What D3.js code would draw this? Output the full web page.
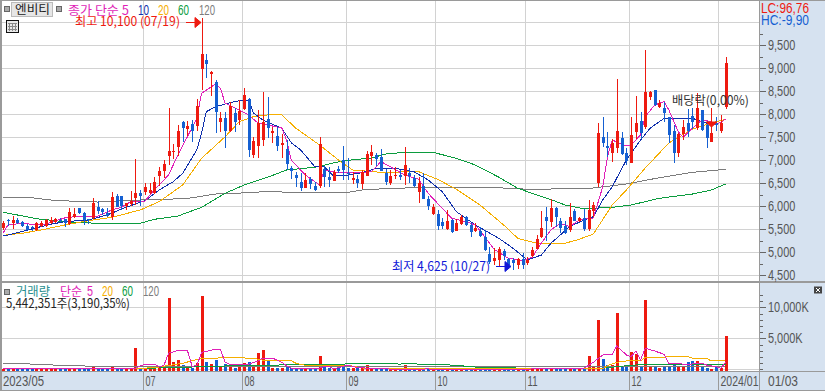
<!DOCTYPE html>
<html>
<head>
<meta charset="utf-8">
<style>
  html, body { margin: 0; padding: 0; background: #fff; }
  svg { display: block; }
  text { font-family: "Liberation Sans", sans-serif; font-size: 14px; }
  .kr { font-family: "Noto Sans CJK KR", sans-serif; font-size: 12.5px; }
</style>
<script src="https://cdn.jsdelivr.net/npm/d3@7"></script>
</head>
<body>
<svg id="chart" width="825" height="391"></svg>
<script>
// daily candles, one entry per trading day
const opens = [5514,5702,5630,5702,5659,5579,5557,5485,5565,5572,
  5644,5666,5702,5717,5615,5775,5963,5847,5717,5739,
  5992,5941,5847,5760,6224,6224,6007,6050,6173,6297,
  6297,6282,6282,6666,6775,7100,7187,7283,7833,7687,
  7783,7746,8985,9181,8861,8709,7826,7913,7637,8035,
  7876,8109,8326,7115,7296,7441,7891,7600,7528,7333,
  7239,6826,6680,6528,6398,6594,6441,6441,6804,6644,
  6557,6804,7007,6717,6572,6594,6500,6659,7094,7115,
  7078,6730,6500,6659,6680,6644,6730,6609,6296,6441,
  6159,5833,5833,5665,5507,5702,5470,5615,5774,5594,
  5448,5470,5339,4963,4796,4833,5035,4854,4833,4724,
  4854,4774,4920,5072,5317,5774,5665,5970,5687,5572,
  5485,5898,5680,5739,5500,5904,6500,7500,7317,7152,
  7261,7478,7165,6948,7622,7854,7731,8383,8524,8144,
  8144,7935,7637,7165,7572,7804,7963,7709,8089,7768,
  7404,7804,7637,8144];
const closes = [5630,5673,5702,5644,5572,5500,5543,5630,5637,5702,
  5702,5724,5688,5630,5876,5833,5847,5688,5702,6072,
  5905,5869,5789,6195,5992,6007,6065,6123,6289,6224,
  6413,6355,6521,6768,6920,7202,7209,7630,7696,7746,
  7622,8181,9311,9094,8913,8057,7920,7637,8181,7839,
  8072,8420,7209,7420,7804,7839,7696,7644,7311,7370,
  6920,6752,6609,6391,6572,6478,6354,7354,6622,6572,
  6746,6767,6789,6687,6622,6500,6752,7137,7187,7028,
  6774,6528,6659,6680,6630,6891,6659,6426,6500,6159,
  6007,5991,5572,5572,5687,5448,5644,5774,5594,5435,
  5522,5361,5050,4796,4870,5072,4926,4724,4767,4865,
  4724,4833,5050,5289,5522,5680,5970,5774,5544,5413,
  5767,5687,5752,5500,5920,6028,7594,7370,7283,7370,
  7637,7137,6991,7550,7811,7600,8491,8491,8202,8239,
  8035,7550,7152,7572,7717,7637,7839,8144,7644,7478,
  7600,7768,7817,9109];
const highs = [5688,5717,5789,5739,5688,5615,5572,5659,5688,5717,
  5760,5746,5739,5731,5963,5963,5963,5883,5731,6181,
  6123,5956,5963,6311,6260,6224,6079,6340,7028,6355,
  6500,6500,6637,6847,7007,8137,7348,7774,7854,7854,
  7876,8339,10100,9311,8941,8746,8044,8057,8274,8144,
  8311,8578,8348,7500,8094,8478,8383,7717,7731,7572,
  7441,6876,6752,6724,6717,6644,6535,7507,6876,6854,
  6789,6876,7317,7043,6752,6680,6789,7202,7333,7152,
  7239,6804,6789,6861,6789,7296,6833,6680,6631,6724,
  6224,6044,5920,5739,5920,5717,5717,5811,5789,5630,
  5630,5557,5485,5122,5087,5122,5065,4870,4876,4876,
  4985,4898,5122,5370,5898,5978,6159,5985,5752,5687,
  6065,5935,5767,5935,6137,6100,7811,7948,7609,7463,
  8768,7609,7261,7941,8398,8057,9398,8513,8528,8311,
  8274,7948,7768,7594,7876,8109,8131,8457,8094,7854,
  8131,7948,7985,9246];
const lows = [5500,5572,5514,5615,5557,5485,5456,5470,5550,5543,
  5601,5630,5644,5557,5601,5746,5833,5594,5615,5717,
  5847,5811,5760,5702,5978,5920,5920,6007,6028,6007,
  6239,6268,6268,6427,6608,6898,7022,7094,7398,7528,
  7404,7644,8529,8789,8404,7600,7600,7283,7622,7622,
  7768,8094,7057,7043,7050,7296,7500,7370,7209,7057,
  6789,6587,6426,6339,6391,6383,6339,6391,6426,6426,
  6550,6717,6587,6557,6500,6391,6376,6648,6898,6861,
  6752,6463,6463,6609,6572,6463,6500,6420,6065,6152,
  5920,5796,5485,5500,5496,5413,5463,5604,5572,5317,
  5441,5339,5035,4761,4724,4702,4833,4637,4625,4630,
  4637,4724,4909,5060,5311,5246,5544,5550,5420,5398,
  5426,5665,5652,5463,5470,5774,6426,7296,7065,6970,
  7152,7115,6898,6941,7457,7478,7681,8311,8191,8137,
  7839,7383,6948,7065,7441,7500,7674,7659,7637,7261,
  7391,7644,7587,8109];
// volume in thousands of shares
const volumes = [120,100,130,110,120,100,90,120,110,130,
  110,120,100,110,150,110,120,140,100,420,
  130,110,120,330,180,150,120,170,3435,280,
  260,170,220,280,230,11500,1130,1500,690,260,
  260,970,11820,1230,800,1500,580,800,900,260,
  580,1015,1180,580,2630,3110,1500,260,260,160,
  420,180,150,150,150,110,110,2145,420,150,
  110,150,800,150,150,400,180,690,150,130,
  130,130,130,110,130,690,130,130,130,130,
  110,110,90,90,110,90,100,90,110,90,
  90,100,90,90,110,90,80,90,80,90,
  90,100,90,110,130,100,210,90,90,100,
  210,100,110,110,2145,420,7950,1660,690,690,
  9080,580,370,2740,2470,580,11180,580,370,160,
  580,420,970,580,370,1130,1340,1340,320,160,
  100,420,160,5442];

// moving averages of the close, [candle index list, value list]
const ma5Days = [0,1,4,6,9,13,16,20,23,25,27,30,32,35,37,39,41,42,45,46,47,50,52,54,56,59,60,61,64,66,67,68,71,74,78,80,82,85,88,90,93,95,98,100,102,104,107,110,112,114,116,118,120,122,125,127,128,129,132,133,135,136,138,140,141,143,144,146,148,150,151,153];
const ma5 = [5426,5594,5630,5609,5615,5746,5789,5789,5920,5978,6100,6115,6354,6680,7115,7513,7913,8457,8659,8565,8239,8094,7985,7804,7768,7702,7441,7007,6680,6535,6463,6789,6724,6724,6752,6970,6861,6680,6587,6283,5956,5739,5665,5594,5339,5065,4869,4822,4887,5202,5485,5630,5557,5702,5746,6426,7078,7441,7311,7333,7550,7948,8202,8274,8094,7622,7500,7696,7876,7839,7768,7891];
const ma10Days = [0,3,6,10,13,18,22,26,30,33,36,38,41,42,43,45,48,50,52,53,55,59,61,63,66,68,70,73,76,79,83,87,90,93,96,100,105,108,111,114,116,120,123,125,127,129,132,135,137,140,146,149,151,153];
const ma10 = [5354,5426,5507,5609,5665,5702,5811,5978,6122,6354,6535,6717,7224,7587,8057,8165,8252,8296,8311,8028,7876,7696,7383,7224,6861,6854,6659,6680,6730,6826,6826,6752,6572,6317,5883,5594,5304,5087,4833,4941,5196,5557,5702,5774,6137,6426,7007,7441,7696,7913,7913,7804,7768,7891];
const ma20Days = [0,4,8,13,18,23,29,33,38,42,47,50,53,57,59,62,67,71,74,80,88,92,96,101,106,109,113,119,122,125,129,132,136,139,141,146,150,153];
const ma20 = [5370,5413,5485,5594,5687,5761,5920,6100,6463,7043,7513,7839,7948,8000,7985,7696,7333,7007,6789,6739,6752,6587,6370,6028,5594,5304,5196,5196,5283,5398,6028,6354,6833,7159,7376,7680,7811,7887];
const ma60Days = [0,3,7,13,20,29,32,37,42,47,51,56,60,66,72,78,81,86,91,96,100,105,109,112,116,119,123,129,133,139,146,150,153];
const ma60 = [5870,5811,5731,5665,5630,5630,5717,5789,5978,6283,6463,6631,6789,6848,6991,7050,7137,7180,7174,7043,6898,6631,6391,6283,6148,6028,5948,5978,6028,6174,6267,6354,6485];
const ma120Days = [0,6,10,16,20,27,33,39,45,52,56,61,73,76,82,92,103,110,116,125,132,139,146,153];
const ma120 = [6196,6187,6137,6104,6093,6130,6148,6170,6267,6296,6322,6304,6304,6354,6391,6413,6413,6376,6376,6398,6485,6622,6739,6804];

// moving averages of the volume
const vol5Days = [0,13,22,28,29,30,32,33,34,35,37,39,40,41,42,45,46,47,48,52,54,55,57,59,60,61,67,68,69,70,73,75,78,80,82,84,90,92,100,110,123,125,127,129,130,132,133,134,135,136,138,140,141,145,148,149,151,152,153];
const vol5 = [50,50,160,160,580,800,800,420,580,2580,3060,3060,500,580,2740,3225,3225,1130,800,850,1340,1820,1820,1130,580,160,160,420,420,50,690,260,160,160,30,30,50,30,0,30,160,1130,2300,2420,3800,2300,2030,2950,1500,3390,2950,2420,970,800,970,690,420,160,1130];
const vol20Days = [0,28,32,38,42,45,47,53,56,61,62,64,73,75,77,90,124,127,128,130,132,135,136,140,141,145,146,149,150,153];
const vol20 = [100,120,260,970,1775,1775,1935,1775,1340,1390,970,640,640,370,100,50,50,100,580,1130,1340,1340,1935,1935,2090,2090,1775,1775,1340,1500];
const vol60Days = [0,28,35,47,59,62,72,73,83,84,85,87,88,94,95,97,98,102,108,109,115,126,128,132,136,145,153];
const vol60 = [120,120,260,530,700,800,800,970,970,800,970,970,800,800,640,640,420,320,320,100,100,100,260,580,800,800,800];
const vol120Days = [0,5,6,10,11,17,18,153];
const vol120 = [970,970,800,800,580,580,420,480];

// axis and time labels
const priceTicks = [4500,5000,5500,6000,6500,7000,7500,8000,8500,9000,9500];
const priceMinor = [4750,5250,5750,6250,6750,7250,7750,8250,8750,9250,9750];
const priceGrid = priceTicks.concat([10000]);
const volumeTicks = [5000,10000];
const volumeMinor = [0,1000,2000,3000,4000,6000,7000,8000,9000,11000,12000];
const monthDays = [30,51,73,92,111,133,152];
const monthLabels = ["07","08","09","10","11","12","2024/01"];

const highDay = 42, lowDay = 108, dividendDay = 150;
const lastDay = opens.length - 1;

const colors = {
  up: "#ee1a10", down: "#1560d2",
  ma5: "#e01fb8", ma10: "#1030ac", ma20: "#f5ae00", ma60: "#0b9c3e", ma120: "#7c7c7c",
  grid: "#d2d2d2", frame: "#9a9a9a", panel: "#d6e2f0", label: "#555"
};

const svg = d3.select("#chart");
const width = 825, height = 391;
const plotRight = 759, splitY = 282, plotBottom = 371.5;

const x = d3.scaleLinear().domain([0, lastDay]).range([3.3, 725.5]);
const step = x(1) - x(0);
const px = (i) => Math.round(x(i));
const yPrice = d3.scaleLinear().domain([4500, 9500]).range([275.3, 45.3]);
const yVol = d3.scaleLinear().domain([0, 10000]).range([369.3, 307.3]);

// right and bottom panels
svg.append("rect").attr("x", plotRight).attr("y", 0)
  .attr("width", width - plotRight).attr("height", height).attr("fill", colors.panel);
svg.append("rect").attr("x", 0).attr("y", plotBottom)
  .attr("width", width).attr("height", height - plotBottom).attr("fill", colors.panel);

// grid
const grid = svg.append("g").attr("shape-rendering", "crispEdges").attr("stroke", colors.grid);
grid.selectAll("line.h").data(priceGrid).join("line").attr("class", "h")
  .attr("x1", 0).attr("x2", plotRight)
  .attr("y1", (d) => Math.round(yPrice(d)) + 0.5).attr("y2", (d) => Math.round(yPrice(d)) + 0.5);
grid.selectAll("line.v").data(volumeTicks.concat([0])).join("line").attr("class", "v")
  .attr("x1", 0).attr("x2", plotRight)
  .attr("y1", (d) => Math.round(yVol(d)) + 0.5).attr("y2", (d) => Math.round(yVol(d)) + 0.5);
const gridX = (i) => Math.round(x(i) - step / 2) + 0.5;
grid.selectAll("line.m").data(monthDays).join("line").attr("class", "m")
  .attr("x1", gridX).attr("x2", gridX).attr("y1", 0).attr("y2", plotBottom);

// moving averages under the candles
function drawLine(parent, days, values, color, y) {
  const line = d3.line().x((d) => x(d[0])).y((d) => y(d[1]));
  parent.append("path")
    .datum(d3.zip(days, values))
    .attr("d", line)
    .attr("fill", "none")
    .attr("stroke", color)
    .attr("stroke-width", 1)
    .attr("shape-rendering", "crispEdges");
}

const priceLines = svg.append("g");
drawLine(priceLines, ma120Days, ma120, colors.ma120, yPrice);
drawLine(priceLines, ma60Days, ma60, colors.ma60, yPrice);
drawLine(priceLines, ma20Days, ma20, colors.ma20, yPrice);
drawLine(priceLines, ma10Days, ma10, colors.ma10, yPrice);
drawLine(priceLines, ma5Days, ma5, colors.ma5, yPrice);

// candles
const candleColor = (i) => (closes[i] >= opens[i] ? colors.up : colors.down);
const candles = svg.append("g").attr("shape-rendering", "crispEdges")
  .selectAll("g").data(d3.range(opens.length)).join("g");
candles.append("rect")
  .attr("x", (i) => px(i))
  .attr("width", 1)
  .attr("y", (i) => Math.round(yPrice(highs[i])))
  .attr("height", (i) => Math.max(1, Math.round(yPrice(lows[i]) - yPrice(highs[i]))))
  .attr("fill", candleColor);
candles.append("rect")
  .attr("x", (i) => px(i) - 1)
  .attr("width", 3)
  .attr("y", (i) => Math.round(yPrice(Math.max(opens[i], closes[i]))))
  .attr("height", (i) => Math.max(1, Math.round(Math.abs(yPrice(opens[i]) - yPrice(closes[i])))))
  .attr("fill", candleColor);

// volume bars with their averages on top
svg.append("g").attr("shape-rendering", "crispEdges")
  .selectAll("rect").data(volumes).join("rect")
  .attr("x", (d, i) => px(i) - 1)
  .attr("width", 3)
  .attr("y", (d) => Math.round(yVol(d)))
  .attr("height", (d) => Math.max(1, plotBottom - Math.round(yVol(d))))
  .attr("fill", (d, i) => candleColor(i));

const volumeLines = svg.append("g");
drawLine(volumeLines, vol120Days, vol120, colors.ma120, yVol);
drawLine(volumeLines, vol60Days, vol60, colors.ma60, yVol);
drawLine(volumeLines, vol20Days, vol20, colors.ma20, yVol);
drawLine(volumeLines, vol5Days, vol5, colors.ma5, yVol);

// frame
const frame = svg.append("g").attr("shape-rendering", "crispEdges").attr("stroke", colors.frame);
[[0, 0.5, width, 0.5], [0.5, 0, 0.5, height], [1.5, 0, 1.5, height],
  [plotRight + 0.5, 0, plotRight + 0.5, height],
  [0, splitY - 0.5, width, splitY - 0.5], [0, splitY + 0.5, width, splitY + 0.5],
  [0, plotBottom, width, plotBottom], [0, 390.5, width, 390.5]]
  .forEach((d) => {
    frame.append("line").attr("x1", d[0]).attr("y1", d[1]).attr("x2", d[2]).attr("y2", d[3]);
  });
frame.selectAll("line.sep").data(monthDays).join("line").attr("class", "sep")
  .attr("x1", gridX).attr("x2", gridX).attr("y1", plotBottom).attr("y2", height);

// axes: the screen font is narrower than anything installed, so labels are squeezed to fit
function addAxis(scale, ticks, size, format) {
  const axis = d3.axisRight(scale).tickValues(ticks).tickSize(size).tickPadding(2)
    .tickFormat(format || (() => ""));
  const g = svg.append("g").attr("transform", `translate(${plotRight + 1},0)`).call(axis);
  g.select(".domain").remove();
  g.selectAll("line").attr("stroke", "#666").attr("shape-rendering", "crispEdges");
  g.selectAll("text")
    .attr("fill", colors.label)
    .style("font-size", "14px")
    .attr("lengthAdjust", "spacingAndGlyphs")
    .attr("textLength", function () { return this.getComputedTextLength() * 0.78; });
}
addAxis(yPrice, priceMinor, 3);
addAxis(yPrice, priceTicks, 6, d3.format(","));
addAxis(yVol, volumeMinor, 3);
addAxis(yVol, volumeTicks, 6, (d) => d3.format(",")(d) + "K");

function label(text, xPos, yPos, fit, color, cls) {
  return svg.append("text").attr("x", xPos).attr("y", yPos)
    .attr("fill", color).attr("class", cls || null)
    .attr("lengthAdjust", "spacingAndGlyphs").attr("textLength", fit)
    .text(text);
}

// date labels
label("2023/05", 3, 386, 41, colors.label);
monthDays.forEach((d, i) => {
  label(monthLabels[i], gridX(d) + 2, 386, monthLabels[i].length > 2 ? 38 : 10, colors.label);
});
label("01/03", 768, 386, 30, colors.label);

label("LC:96,76", 761, 13, 48, "#ee1a10");
label("HC:-9,90", 761, 25, 48, "#1560d2");

// top legend
const squares = [[4, 6], [56, 6], [4, 289]];
svg.append("g").attr("shape-rendering", "crispEdges").selectAll("rect").data(squares).join("rect")
  .attr("x", (d) => d[0]).attr("y", (d) => d[1]).attr("width", 5).attr("height", 5)
  .attr("fill", "#aaa").attr("stroke", "#666");
svg.append("rect").attr("x", 11.5).attr("y", 2.5).attr("width", 41).attr("height", 14)
  .attr("fill", "#e6e6e6").attr("stroke", "#bbb").attr("shape-rendering", "crispEdges");
label("엔비티", 15, 14, 35, "#222", "kr");
label("종가 단순 5", 68, 15, 61, colors.ma5, "kr");
label("10", 138, 15, 11, colors.ma10);
label("20", 158, 15, 11, colors.ma20);
label("60", 178, 15, 11, colors.ma60);
label("120", 199, 15, 16, colors.ma120);

// little table icon
const icon = svg.append("g").attr("shape-rendering", "crispEdges");
icon.append("rect").attr("x", 6.5).attr("y", 20.5).attr("width", 12).attr("height", 12)
  .attr("fill", "#e8e8e8").attr("stroke", "#111");
[9, 12, 15].forEach((v) => {
  icon.append("line").attr("x1", v + 0.5).attr("x2", v + 0.5).attr("y1", 23).attr("y2", 31).attr("stroke", "#888");
});
[23, 26, 29].forEach((v) => {
  icon.append("line").attr("x1", 8).attr("x2", 17).attr("y1", v + 0.5).attr("y2", v + 0.5).attr("stroke", "#888");
});

// high, low and dividend notes
function arrow(xEnd, yPos, color) {
  svg.append("path")
    .attr("d", `M${xEnd - 15},${yPos}H${xEnd - 6}M${xEnd - 6},${yPos - 5}L${xEnd},${yPos}L${xEnd - 6},${yPos + 5}Z`)
    .attr("fill", color).attr("stroke", color);
}
label(`최고 ${d3.format(",")(highs[highDay])} (07/19)`, 75, 26, 105, "#ee1a10", "kr");
arrow(px(highDay) - 1, 22.5, "#ee1a10");
label(`최저 ${d3.format(",")(lows[lowDay])} (10/27)`, 392, 271, 98, "#1018d8", "kr");
arrow(px(lowDay) - 2, 266.5, "#1018d8");

label("배당락(0,00%)", 672, 105, 77, "#333", "kr");
svg.append("path")
  .attr("d", `M${px(dividendDay) - 5},122H${px(dividendDay) + 6}L${px(dividendDay) + 0.5},127Z`)
  .attr("fill", "#ee1a10").attr("stroke", "#ee1a10");

// volume legend
label("거래량", 16, 296, 34, "#2a9090", "kr");
label("단순", 60, 296, 22, colors.ma5, "kr");
label("5", 87, 296, 6, colors.ma5);
label("20", 102, 296, 11, colors.ma20);
label("60", 122, 296, 11, colors.ma60);
label("120", 143, 296, 16, colors.ma120);
label("5,442,351주(3,190,35%)", 6, 308, 124, "#222", "kr");

// close button
svg.append("rect").attr("x", 814).attr("y", 286.5).attr("width", 8).attr("height", 7).attr("fill", "#444");
svg.append("path").attr("d", "M816,288L820,292M820,288L816,292").attr("stroke", "#fff");
</script>
</body>
</html>
